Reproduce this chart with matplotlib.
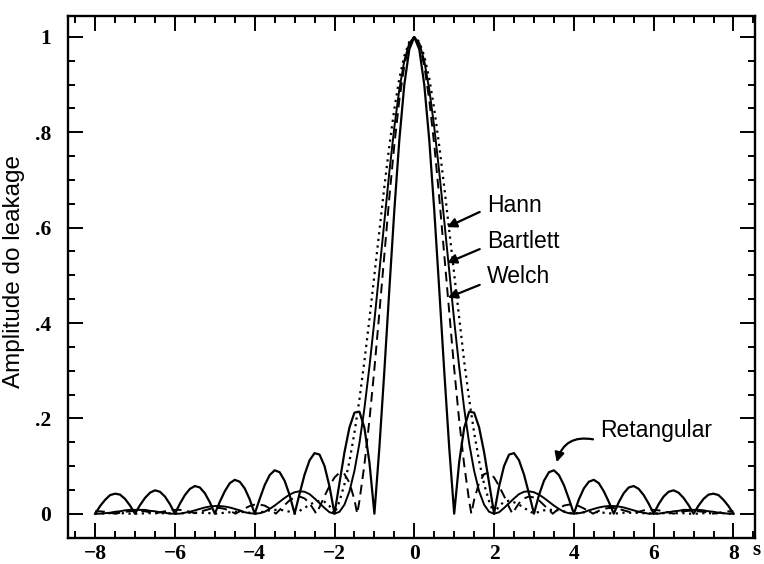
import numpy as np
import matplotlib
matplotlib.use("Agg")
import matplotlib.pyplot as plt
from matplotlib.ticker import MultipleLocator, FuncFormatter

# frequency offset s (bins), read every 1/8 bin from -8 to 8
s = np.linspace(-8, 8, 129)

rect = [
    0.000, 0.016, 0.029, 0.039, 0.042, 0.040, 0.031, 0.017,
    0.000, 0.018, 0.033, 0.044, 0.049, 0.046, 0.036, 0.020,
    0.000, 0.021, 0.039, 0.052, 0.058, 0.055, 0.043, 0.024,
    0.000, 0.025, 0.047, 0.064, 0.071, 0.067, 0.053, 0.030,
    0.000, 0.031, 0.060, 0.081, 0.091, 0.087, 0.069, 0.039,
    0.000, 0.042, 0.082, 0.112, 0.127, 0.124, 0.100, 0.057,
    0.000, 0.065, 0.129, 0.181, 0.212, 0.214, 0.180, 0.108,
    0.000, 0.139, 0.300, 0.471, 0.637, 0.784, 0.900, 0.974,
    1.000, 0.974, 0.900, 0.784, 0.637, 0.471, 0.300, 0.139,
    0.000, 0.108, 0.180, 0.214, 0.212, 0.181, 0.129, 0.065,
    0.000, 0.057, 0.100, 0.124, 0.127, 0.112, 0.082, 0.042,
    0.000, 0.039, 0.069, 0.087, 0.091, 0.081, 0.060, 0.031,
    0.000, 0.030, 0.053, 0.067, 0.071, 0.064, 0.047, 0.025,
    0.000, 0.024, 0.043, 0.055, 0.058, 0.052, 0.039, 0.021,
    0.000, 0.020, 0.036, 0.046, 0.049, 0.044, 0.033, 0.018,
    0.000, 0.017, 0.031, 0.040, 0.042, 0.039, 0.029, 0.016,
    0.000,
]

hann = [
    0.000, 0.000, 0.001, 0.001, 0.001, 0.001, 0.001, 0.000,
    0.000, 0.000, 0.001, 0.001, 0.001, 0.001, 0.001, 0.001,
    0.000, 0.001, 0.001, 0.002, 0.002, 0.002, 0.002, 0.001,
    0.000, 0.001, 0.002, 0.003, 0.004, 0.004, 0.003, 0.002,
    0.000, 0.002, 0.005, 0.007, 0.008, 0.008, 0.007, 0.004,
    0.000, 0.006, 0.012, 0.019, 0.024, 0.027, 0.025, 0.016,
    0.000, 0.026, 0.062, 0.110, 0.170, 0.240, 0.320, 0.408,
    0.500, 0.594, 0.686, 0.772, 0.849, 0.913, 0.960, 0.990,
    1.000, 0.990, 0.960, 0.913, 0.849, 0.772, 0.686, 0.594,
    0.500, 0.408, 0.320, 0.240, 0.170, 0.110, 0.062, 0.026,
    0.000, 0.016, 0.025, 0.027, 0.024, 0.019, 0.012, 0.006,
    0.000, 0.004, 0.007, 0.008, 0.008, 0.007, 0.005, 0.002,
    0.000, 0.002, 0.003, 0.004, 0.004, 0.003, 0.002, 0.001,
    0.000, 0.001, 0.002, 0.002, 0.002, 0.002, 0.001, 0.001,
    0.000, 0.001, 0.001, 0.001, 0.001, 0.001, 0.001, 0.000,
    0.000, 0.000, 0.001, 0.001, 0.001, 0.001, 0.001, 0.000,
    0.000,
]

bartlett = [
    0.000, 0.000, 0.001, 0.002, 0.004, 0.005, 0.007, 0.008,
    0.008, 0.008, 0.008, 0.006, 0.005, 0.003, 0.002, 0.000,
    0.000, 0.000, 0.002, 0.004, 0.007, 0.010, 0.013, 0.015,
    0.016, 0.016, 0.015, 0.013, 0.010, 0.007, 0.003, 0.001,
    0.000, 0.001, 0.004, 0.010, 0.017, 0.025, 0.033, 0.040,
    0.045, 0.047, 0.046, 0.041, 0.032, 0.022, 0.012, 0.003,
    0.000, 0.004, 0.019, 0.047, 0.090, 0.148, 0.221, 0.308,
    0.405, 0.509, 0.615, 0.717, 0.811, 0.890, 0.950, 0.987,
    1.000, 0.987, 0.950, 0.890, 0.811, 0.717, 0.615, 0.509,
    0.405, 0.308, 0.221, 0.148, 0.090, 0.047, 0.019, 0.004,
    0.000, 0.003, 0.012, 0.022, 0.032, 0.041, 0.046, 0.047,
    0.045, 0.040, 0.033, 0.025, 0.017, 0.010, 0.004, 0.001,
    0.000, 0.001, 0.003, 0.007, 0.010, 0.013, 0.015, 0.016,
    0.016, 0.015, 0.013, 0.010, 0.007, 0.004, 0.002, 0.000,
    0.000, 0.000, 0.002, 0.003, 0.005, 0.006, 0.008, 0.008,
    0.008, 0.008, 0.007, 0.005, 0.004, 0.002, 0.001, 0.000,
    0.000,
]

welch = [
    0.005, 0.005, 0.004, 0.002, 0.000, 0.002, 0.004, 0.005,
    0.006, 0.006, 0.005, 0.003, 0.000, 0.003, 0.005, 0.007,
    0.008, 0.008, 0.007, 0.004, 0.001, 0.004, 0.007, 0.010,
    0.012, 0.012, 0.010, 0.006, 0.001, 0.005, 0.011, 0.016,
    0.019, 0.019, 0.017, 0.011, 0.002, 0.008, 0.018, 0.028,
    0.034, 0.036, 0.032, 0.022, 0.006, 0.014, 0.037, 0.058,
    0.076, 0.086, 0.083, 0.065, 0.029, 0.027, 0.103, 0.196,
    0.304, 0.422, 0.544, 0.664, 0.774, 0.868, 0.940, 0.985,
    1.000, 0.985, 0.940, 0.868, 0.774, 0.664, 0.544, 0.422,
    0.304, 0.196, 0.103, 0.027, 0.029, 0.065, 0.083, 0.086,
    0.076, 0.058, 0.037, 0.014, 0.006, 0.022, 0.032, 0.036,
    0.034, 0.028, 0.018, 0.008, 0.002, 0.011, 0.017, 0.019,
    0.019, 0.016, 0.011, 0.005, 0.001, 0.006, 0.010, 0.012,
    0.012, 0.010, 0.007, 0.004, 0.001, 0.004, 0.007, 0.008,
    0.008, 0.007, 0.005, 0.003, 0.000, 0.003, 0.005, 0.006,
    0.006, 0.005, 0.004, 0.002, 0.000, 0.002, 0.004, 0.005,
    0.005,
]

# where the Welch curve touches zero between grid points
welch_zero_s = [-4.48, -3.47, -2.46, -1.43, 1.43, 2.46, 3.47, 4.48]
welch_zero_v = [0.0, 0.0, 0.0, 0.0, 0.0, 0.0, 0.0, 0.0]

ytick_labels = ["0", ".2", ".4", ".6", ".8", "1"]

ws = np.concatenate([s, welch_zero_s])
wv = np.concatenate([welch, welch_zero_v])
order = np.argsort(ws)
ws, wv = ws[order], wv[order]

fig = plt.figure(figsize=(7.64, 5.64), dpi=100)
ax = fig.add_axes([68 / 764, 26 / 564, 687 / 764, 522 / 564])

ax.plot(s, rect, color="k", lw=1.6, solid_joinstyle="round")
ax.plot(s, bartlett, color="k", lw=1.4)
ax.plot(ws, wv, color="k", lw=1.4, linestyle=(0, (5, 3)))
ax.plot(s, hann, color="k", lw=1.6, linestyle=(0, (1, 2)))

ax.set_xlim(-8.68, 8.54)
ax.set_ylim(-0.051, 1.044)

ax.xaxis.set_major_locator(MultipleLocator(2))
ax.xaxis.set_minor_locator(MultipleLocator(0.5))
ax.yaxis.set_major_locator(MultipleLocator(0.2))
ax.yaxis.set_minor_locator(MultipleLocator(0.05))
ax.yaxis.set_major_formatter(FuncFormatter(
    lambda v, pos: ytick_labels[int(round(v / 0.2))] if -0.01 < v < 1.01 else ""))

ax.tick_params(which="both", direction="in", top=True, right=True, width=1.4)
ax.tick_params(which="major", length=11)
ax.tick_params(which="minor", length=5)
ax.tick_params(axis="x", which="major", pad=4)
ax.tick_params(axis="y", which="major", pad=12)
for lab in ax.get_xticklabels() + ax.get_yticklabels():
    lab.set_fontfamily("Liberation Serif")
    lab.set_fontsize(15.5)
    lab.set_fontweight("bold")
for sp in ax.spines.values():
    sp.set_linewidth(1.7)

ax.set_ylabel("Amplitude do leakage", fontsize=17.5, family="Liberation Sans")
ax.yaxis.set_label_coords(-0.063, 0.51)

txt = dict(fontsize=16.5, family="Liberation Sans", va="center", ha="left")
arrow = dict(arrowstyle="-|>", color="k", lw=1.6, mutation_scale=14,
             shrinkA=0, shrinkB=0)
ax.text(1.82, 0.647, "Hann", **txt)
ax.text(1.82, 0.571, "Bartlett", **txt)
ax.text(1.82, 0.497, "Welch", **txt)
ax.text(4.65, 0.175, "Retangular", **txt)
ax.annotate("", xy=(0.82, 0.601), xytext=(1.64, 0.633), arrowprops=arrow)
ax.annotate("", xy=(0.82, 0.526), xytext=(1.64, 0.555), arrowprops=arrow)
ax.annotate("", xy=(0.84, 0.453), xytext=(1.64, 0.480), arrowprops=arrow)
ax.annotate("", xy=(3.57, 0.108), xytext=(4.48, 0.156),
            arrowprops=dict(arrow, connectionstyle="arc3,rad=0.45"))

fig.text(752 / 764, 1 - 550 / 564, "s", fontsize=15, family="Liberation Serif",
         fontweight="bold", ha="left", va="center")

fig.savefig("out.png", dpi=100)
